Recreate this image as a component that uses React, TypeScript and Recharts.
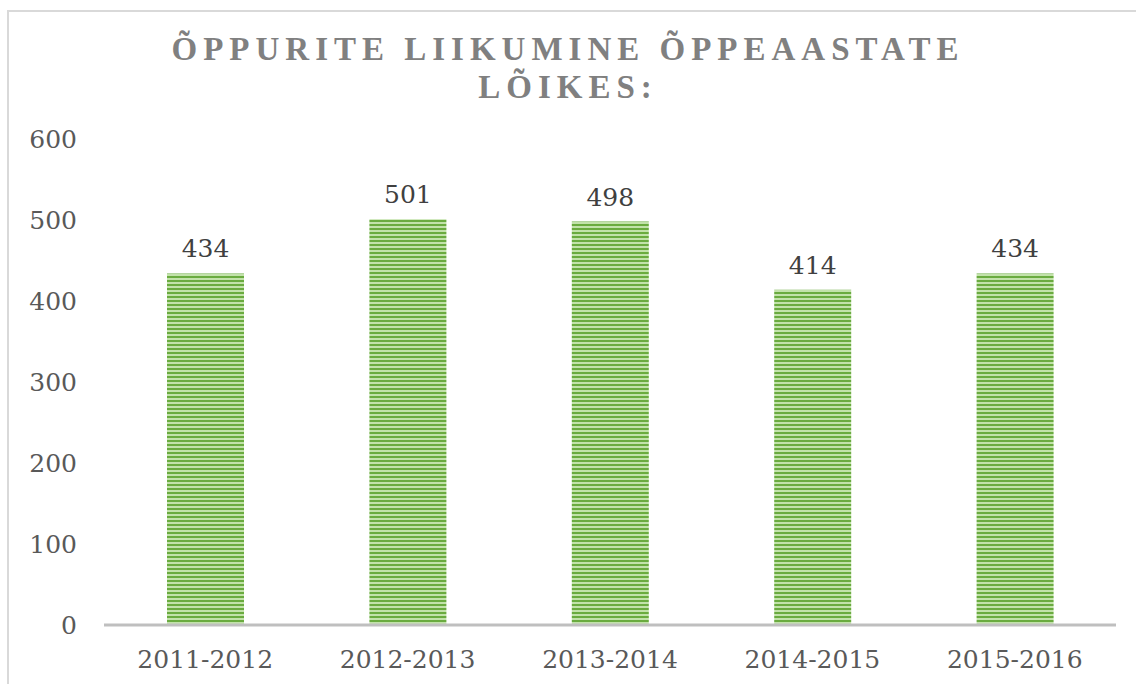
import React from 'react';
import { BarChart, Bar, XAxis, YAxis, LabelList } from 'recharts';

const years = ['2011-2012', '2012-2013', '2013-2014', '2014-2015', '2015-2016'];
const students = [434, 501, 498, 414, 434];
const yTicks = [0, 100, 200, 300, 400, 500, 600];

const data = years.map((year, i) => ({ year, students: students[i] }));

const font = '"DejaVu Serif", Georgia, serif';

export default function App() {
    return (
        <div style={{ position: 'absolute', left: 0, top: 0, width: 1136, height: 684, overflow: 'hidden', background: '#fff' }}>
            <div
                style={{
                    position: 'absolute',
                    left: 7,
                    top: 10,
                    width: 1200,
                    height: 760,
                    borderLeft: '2px solid #d9d9d9',
                    borderTop: '2px solid #d9d9d9',
                }}
            />
            <div
                style={{
                    position: 'absolute',
                    left: 0,
                    top: 30,
                    width: 1136,
                    textAlign: 'center',
                    fontFamily: '"Liberation Serif", serif',
                    fontWeight: 'bold',
                    fontSize: 33,
                    lineHeight: '38px',
                    letterSpacing: 6,
                    color: '#808080',
                }}
            >
                ÕPPURITE LIIKUMINE ÕPPEAASTATE
                <br />
                LÕIKES:
            </div>
            <div style={{ position: 'absolute', left: 0, top: 0 }}>
                <BarChart
                    width={1136}
                    height={684}
                    data={data}
                    margin={{ top: 139, right: 20, left: 0, bottom: 0 }}
                >
                    <defs>
                        <pattern id="stripes" width="8" height="4" patternUnits="userSpaceOnUse">
                            <rect x="0" y="0" width="8" height="2" fill="#6aab3f" />
                            <rect x="0" y="2" width="8" height="2" fill="#c2e2aa" />
                        </pattern>
                    </defs>
                    <XAxis
                        dataKey="year"
                        height={59}
                        tickLine={false}
                        axisLine={{ stroke: '#bfbfbf', strokeWidth: 3 }}
                        tick={{ fill: '#595959', fontSize: 25, fontFamily: font }}
                        tickMargin={19}
                    />
                    <YAxis
                        domain={[0, 600]}
                        ticks={yTicks}
                        width={104}
                        axisLine={false}
                        tickLine={false}
                        tickSize={0}
                        tickMargin={27}
                        tick={{ fill: '#595959', fontSize: 25, fontFamily: font }}
                    />
                    <Bar dataKey="students" fill="url(#stripes)" barSize={77} isAnimationActive={false}>
                        <LabelList
                            dataKey="students"
                            position="top"
                            offset={16}
                            fill="#404040"
                            fontSize={25}
                            fontFamily={font}
                        />
                    </Bar>
                </BarChart>
            </div>
        </div>
    );
}
